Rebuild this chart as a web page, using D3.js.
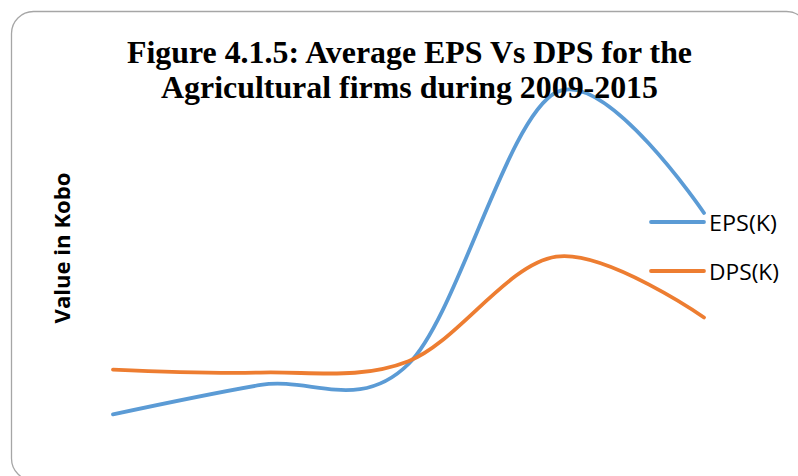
<!DOCTYPE html>
<html>
<head>
<meta charset="utf-8">
<script src="https://cdn.jsdelivr.net/npm/d3@7"></script>
<style>
  html, body { margin: 0; padding: 0; background: #fff; }
  svg { display: block; }
</style>
</head>
<body>
<svg id="chart" width="798" height="476"></svg>
<script>
const categories = ["2009", "2010", "2011", "2012", "2013"];
const epsValues = [2.7, 5.8, 8.0, 36.6, 23.9];
const dpsValues = [7.4, 7.1, 8.3, 19.3, 12.9];
const seriesNames = ["EPS(K)", "DPS(K)"];
const titleLines = ["Figure 4.1.5: Average EPS Vs DPS for the", "Agricultural firms during 2009-2015"];
const yAxisLabel = "Value in Kobo";

const series = [
  { name: seriesNames[0], values: epsValues, color: "#5B9BD5" },
  { name: seriesNames[1], values: dpsValues, color: "#ED7D31" }
];

const svg = d3.select("#chart");

// chart border
svg.append("rect")
  .attr("x", 11.5).attr("y", 11.5)
  .attr("width", 797).attr("height", 469)
  .attr("rx", 22).attr("ry", 22)
  .attr("fill", "#fff")
  .attr("stroke", "#a6a6a6")
  .attr("stroke-width", 1.3);

const x = d3.scalePoint().domain(categories).range([113, 704]);
const y = d3.scaleLinear().domain([0, 40]).range([440, 60]);

const line = d3.line()
  .x((d, i) => x(categories[i]))
  .y(d => y(d))
  .curve(d3.curveCardinal.tension(0));

svg.selectAll("path.series")
  .data(series)
  .join("path")
  .attr("class", "series")
  .attr("d", d => line(d.values))
  .attr("fill", "none")
  .attr("stroke", d => d.color)
  .attr("stroke-width", 3.8)
  .attr("stroke-linecap", "round")
  .attr("stroke-linejoin", "round");

// title
const title = svg.append("text")
  .attr("text-anchor", "middle")
  .attr("font-family", "'Liberation Serif', 'Times New Roman', serif")
  .attr("font-weight", "bold")
  .attr("font-size", 32)
  .attr("fill", "#000");
const titleLens = [565, 497];
const titleY = [63, 98];
titleLines.forEach((t, i) => {
  title.append("tspan")
    .attr("x", 409.5)
    .attr("y", titleY[i])
    .attr("textLength", titleLens[i])
    .attr("lengthAdjust", "spacingAndGlyphs")
    .text(t);
});

// y axis label
svg.append("text")
  .attr("transform", "translate(70,248) rotate(-90)")
  .attr("text-anchor", "middle")
  .attr("font-family", "'Open Sans', 'Noto Sans', sans-serif")
  .attr("font-weight", "bold")
  .attr("font-size", 21)
  .attr("textLength", 151)
  .attr("lengthAdjust", "spacingAndGlyphs")
  .attr("fill", "#000")
  .text(yAxisLabel);

// legend
const legendY = [222, 271];
const legendTextLen = [68, 70];
const lg = svg.selectAll("g.legend")
  .data(series)
  .join("g")
  .attr("class", "legend")
  .attr("transform", (d, i) => `translate(0,${legendY[i]})`);
lg.append("line")
  .attr("x1", 651).attr("x2", 704)
  .attr("y1", 0).attr("y2", 0)
  .attr("stroke", d => d.color)
  .attr("stroke-width", 3.8)
  .attr("stroke-linecap", "round");
lg.append("text")
  .attr("x", 709)
  .attr("y", 8.5)
  .attr("font-family", "'Open Sans', 'Noto Sans', sans-serif")
  .attr("font-size", 22)
  .attr("textLength", (d, i) => legendTextLen[i])
  .attr("lengthAdjust", "spacingAndGlyphs")
  .attr("fill", "#000")
  .text(d => d.name);
</script>
</body>
</html>
